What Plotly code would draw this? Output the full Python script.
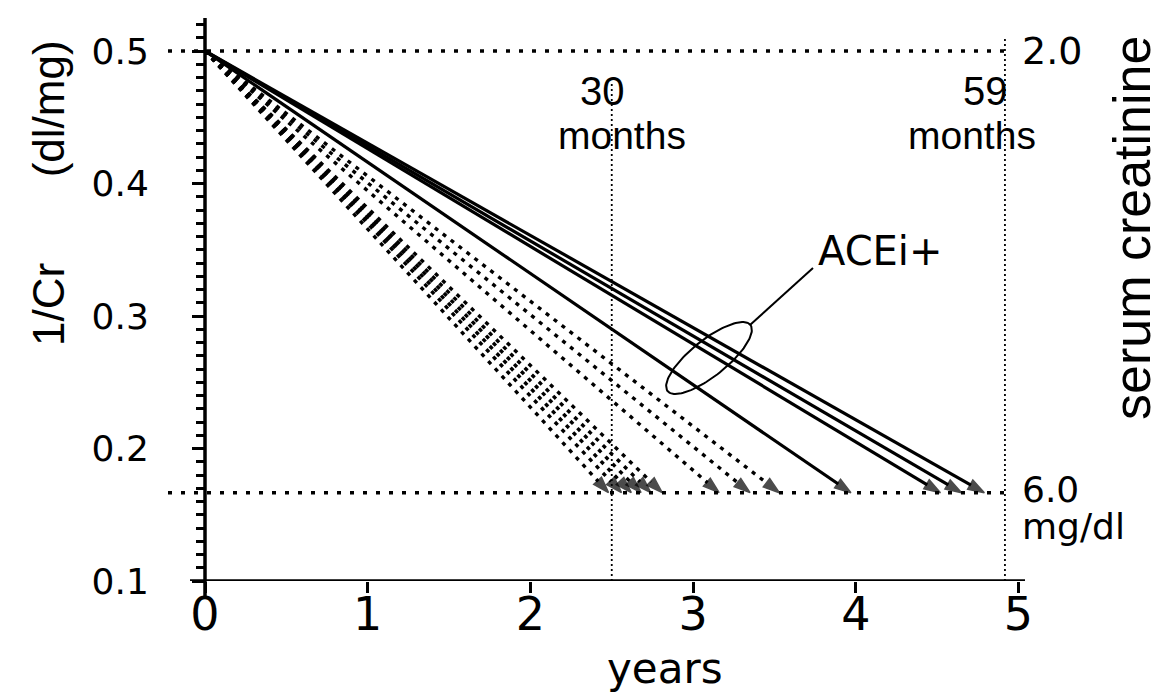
import numpy as np
import plotly.graph_objects as go

# ---- data ----
start_year = 0.0
start_inv_cr = 0.5            # 1/Cr at start  (serum creatinine 2.0 mg/dl)
end_inv_cr = 1.0 / 6.0        # 1/Cr at end    (serum creatinine 6.0 mg/dl)

acei_minus_end_years = [2.48, 2.56, 2.62, 2.68, 2.74, 2.81, 3.16, 3.35, 3.53]
acei_plus_end_years = [3.97, 4.52, 4.65, 4.79]

median_months = [30, 59]
x_tick_vals = [0, 1, 2, 3, 4, 5]
y_tick_vals = [0.1, 0.2, 0.3, 0.4, 0.5]
y_tick_text = ["0.1", "0.2", "0.3", "0.4", "0.5"]

# ---- geometry helpers (pixel <-> data / paper) ----
X0_PX, PX_PER_YEAR = 197.0, 162.7
Y01_PX, PX_PER_UNIT = 573.0, 1325.0
L_PX, R_PX, T_PX, B_PX = 156.0, 1017.0, 10.0, 573.0
def xd(px):
    return (px - X0_PX) / PX_PER_YEAR
def yd(py):
    return 0.1 + (Y01_PX - py) / PX_PER_UNIT
def xp(px):
    return (px - L_PX) / (R_PX - L_PX)
def yp(py):
    return (B_PX - py) / (B_PX - T_PX)

X_RANGE = [xd(L_PX), xd(R_PX)]
Y_RANGE = [0.1, yd(T_PX)]

fig = go.Figure()

def add_course(end_year, dash, width):
    fig.add_trace(go.Scatter(
        x=[start_year, end_year], y=[start_inv_cr, end_inv_cr],
        mode="lines+markers",
        line=dict(color="black", width=width, dash=dash),
        marker=dict(symbol="arrow", size=[0, 17], color="black",
                    angleref="previous", line=dict(width=1.5, color="black")),
        showlegend=False, hoverinfo="skip"))

for t in acei_minus_end_years:
    add_course(t, "4px,6px", 3.4)
for t in acei_plus_end_years:
    add_course(t, "solid", 3.2)

# ellipse around ACEi+ lines (decoration)
cx, cy, a, b = 701.0, 350.0, 53.0, 18.0
th = np.deg2rad(38.7)
tt = np.linspace(0, 2 * np.pi, 120)
ex = cx + a * np.cos(tt) * np.cos(th) - b * np.sin(tt) * np.sin(th)
ey = cy - (a * np.cos(tt) * np.sin(th) + b * np.sin(tt) * np.cos(th))
fig.add_trace(go.Scatter(x=xd(ex), y=yd(ey), mode="lines",
                         line=dict(color="black", width=2),
                         showlegend=False, hoverinfo="skip"))

shapes = []
month_years = [m / 12.0 for m in median_months]
# horizontal dotted reference lines (Cr 2.0 and 6.0)
for yv in [start_inv_cr, end_inv_cr]:
    shapes.append(dict(type="line", xref="x", yref="y", x0=xd(160), x1=month_years[1],
                       y0=yv, y1=yv, line=dict(color="black", width=3.5, dash="4px,9px")))
# vertical dotted lines at 30 and 59 months
shapes.append(dict(type="line", xref="x", yref="y", x0=month_years[0], x1=month_years[0],
                   y0=0.1, y1=yd(75), line=dict(color="black", width=1.8, dash="2px,3px")))
shapes.append(dict(type="line", xref="x", yref="y", x0=month_years[1], x1=month_years[1],
                   y0=0.1, y1=yd(30), line=dict(color="black", width=1.8, dash="2px,3px")))
# axis lines
shapes.append(dict(type="line", xref="x", yref="y", x0=xd(182), x1=xd(R_PX),
                   y0=0.1, y1=0.1, line=dict(color="black", width=3.5)))
shapes.append(dict(type="line", xref="x", yref="paper", x0=0, x1=0,
                   y0=yp(590), y1=1, line=dict(color="black", width=3.5)))
# leader line for ACEi+
shapes.append(dict(type="line", xref="x", yref="y", x0=xd(742), y0=yd(317),
                   x1=xd(805), y1=yd(260), line=dict(color="black", width=2)))

F1 = "Liberation Sans, Arial, sans-serif"
F2 = "DejaVu Sans, sans-serif"
ann = []
def txt(text, x, y, size, font=F1, xanchor="center", yanchor="middle", angle=0,
        xref="x", yref="y"):
    ann.append(dict(text=text, x=x, y=y, xref=xref, yref=yref, showarrow=False,
                    font=dict(family=font, size=size, color="black"),
                    xanchor=xanchor, yanchor=yanchor, textangle=angle))

txt("30", month_years[0] - 9 / PX_PER_YEAR, yd(107), 40, yanchor="bottom")
txt("months", month_years[0] + 10 / PX_PER_YEAR, yd(104), 39, yanchor="top")
txt("59", month_years[1] - 19 / PX_PER_YEAR, yd(107), 40, yanchor="bottom")
txt("months", month_years[1] - 33 / PX_PER_YEAR, yd(104), 39, yanchor="top")
txt("2.0", xd(1012), start_inv_cr, 38, font=F2, xanchor="left")
txt("6.0", xd(1012), yd(504), 36, font=F2, xanchor="left", yanchor="bottom")
txt("mg/dl", xd(1012), yd(496), 36, font=F2, xanchor="left", yanchor="top")
txt("ACEi+", xd(808), yd(243), 40, font=F2, xanchor="left")
txt("serum creatinine", xp(1124), yp(220), 52, angle=-90, xref="paper", yref="paper")
txt("1/Cr\u00a0\u00a0\u00a0\u00a0\u00a0\u00a0\u00a0(dl/mg)", xp(40), yp(185), 44, angle=-90,
    xref="paper", yref="paper")
txt("years", xp(657), yp(660), 42, font=F2, xref="paper", yref="paper")

fig.update_layout(
    width=1160, height=693,
    margin=dict(l=L_PX, r=1160 - R_PX, t=T_PX, b=693 - B_PX),
    paper_bgcolor="white", plot_bgcolor="white",
    shapes=shapes, annotations=ann,
    xaxis=dict(range=X_RANGE, showgrid=False, zeroline=False, showline=False,
               tickmode="array", tickvals=x_tick_vals,
               ticks="outside", ticklen=11, tickwidth=2.5, tickcolor="black",
               ticklabelstandoff=-18,
               tickfont=dict(family=F2, size=46, color="black")),
    yaxis=dict(range=Y_RANGE, showgrid=False, zeroline=False, showline=False,
               anchor="free", position=xp(X0_PX),
               tickmode="array", tickvals=y_tick_vals, ticktext=y_tick_text,
               ticks="outside", ticklen=13, tickwidth=3, tickcolor="black",
               ticklabelstandoff=36,
               minor=dict(dtick=0.01, ticks="outside", ticklen=9, tickwidth=2.5,
                          tickcolor="black"),
               tickfont=dict(family=F2, size=36, color="black")),
)

fig.write_html("out.html")
